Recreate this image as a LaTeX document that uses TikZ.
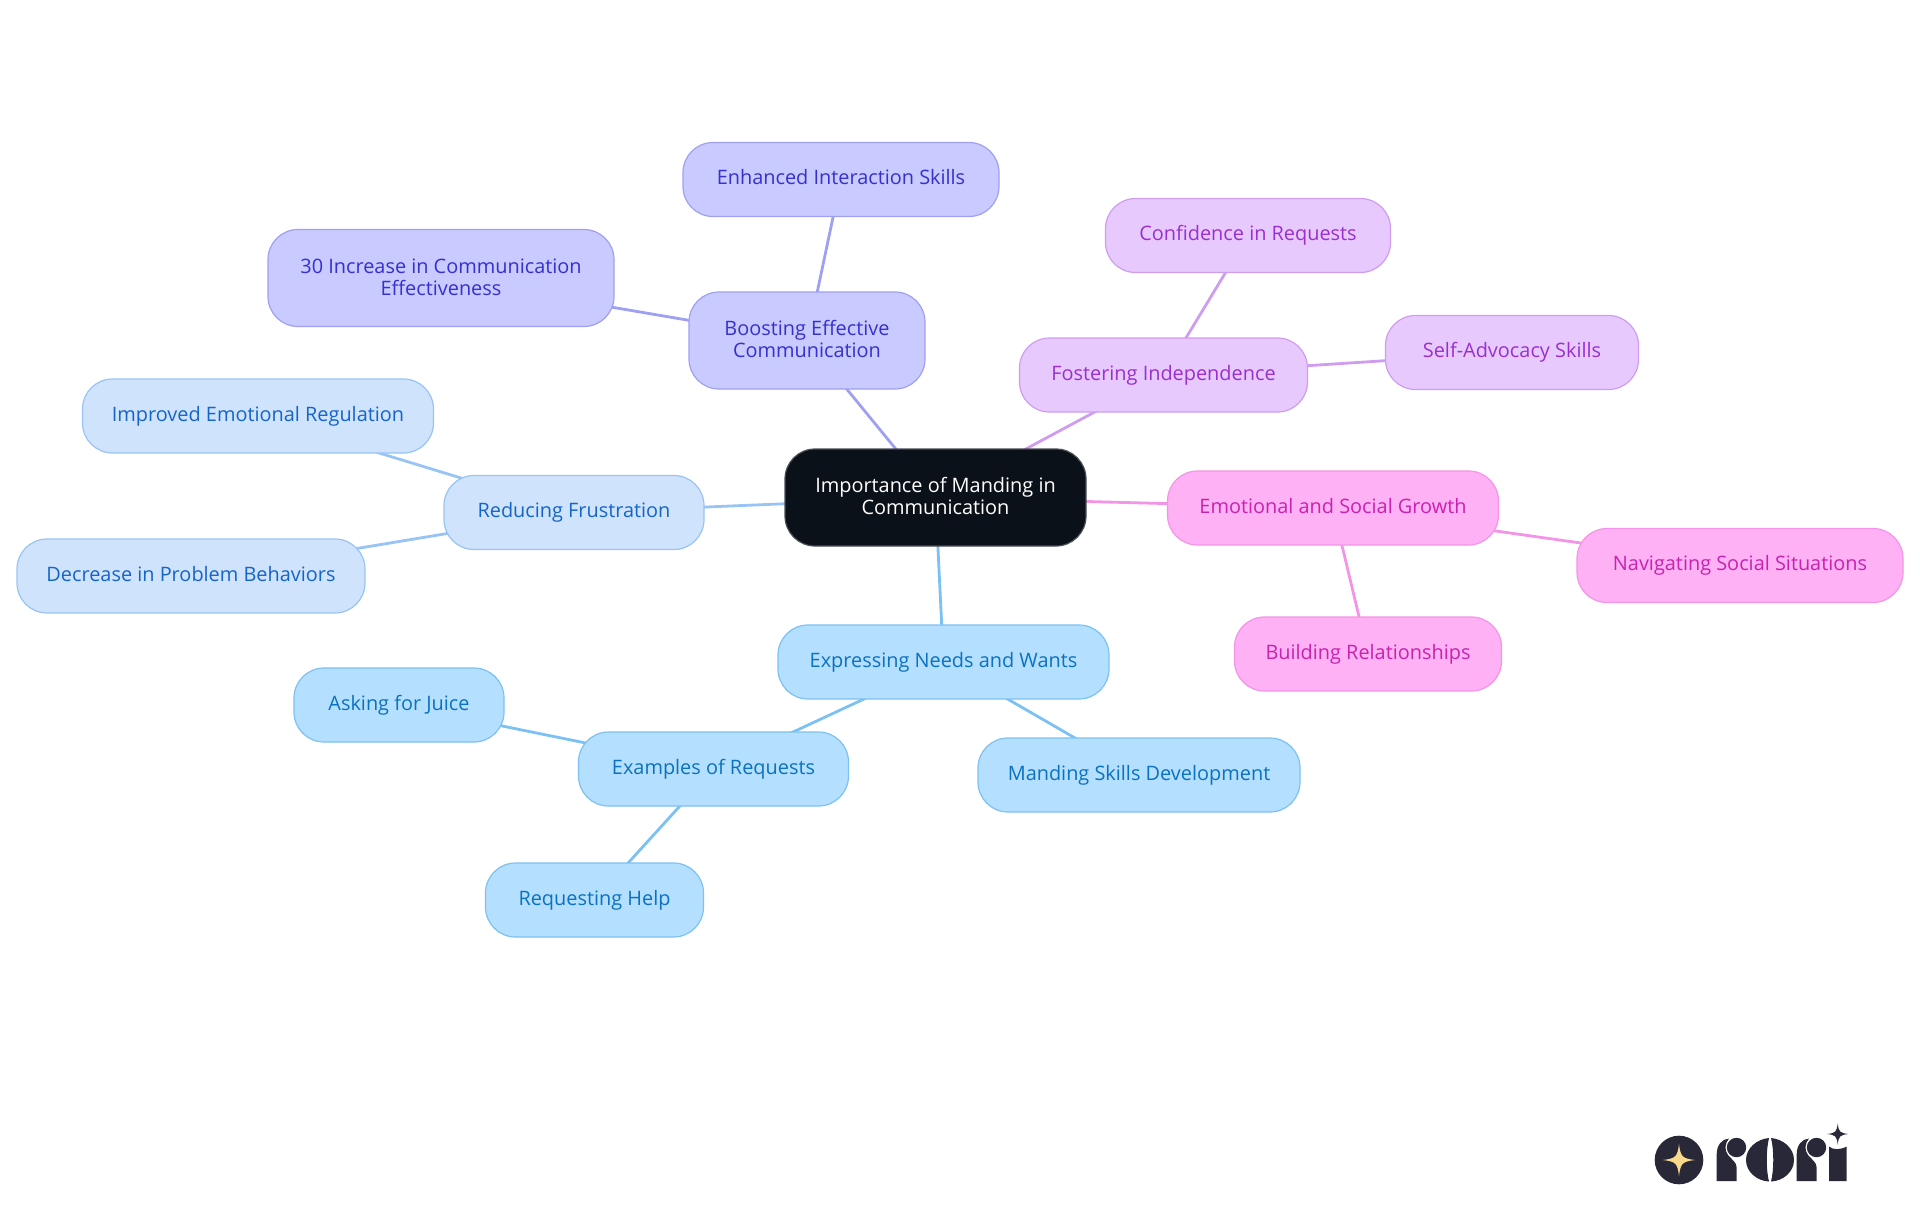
\documentclass[tikz,border=0pt]{standalone}
\usepackage{fontspec}
\usetikzlibrary{backgrounds}
\setmainfont{Open Sans}
\definecolor{rootfill}{HTML}{0B1119}
\definecolor{rootline}{HTML}{4A4F55}
\definecolor{boostfill}{HTML}{C9CAFF}
\definecolor{boostline}{HTML}{9FA0F2}
\definecolor{boosttext}{HTML}{3730CF}
\definecolor{calmfill}{HTML}{CFE3FD}
\definecolor{calmline}{HTML}{98C4F5}
\definecolor{calmtext}{HTML}{1565C9}
\definecolor{needfill}{HTML}{B5DFFE}
\definecolor{needline}{HTML}{7CC1F3}
\definecolor{needtext}{HTML}{0A72C0}
\definecolor{selffill}{HTML}{E8C9FE}
\definecolor{selfline}{HTML}{CF9CF0}
\definecolor{selftext}{HTML}{9A2FD0}
\definecolor{growfill}{HTML}{FEB1F4}
\definecolor{growline}{HTML}{F494E6}
\definecolor{growtext}{HTML}{C822B0}
\definecolor{logoink}{HTML}{292838}
\definecolor{logostar}{HTML}{FBD98A}
\tikzset{
  mapnode/.style={rounded corners=30, line width=1.2pt, inner sep=0pt, align=center,
    minimum height=74, text height=15, text depth=5, font=\fontsize{19.9}{22}\selectfont},
  tallnode/.style={minimum height=97, text height=, text depth=2.4},
  rootnode/.style={mapnode, fill=rootfill, draw=rootline, text=white},
  boostnode/.style={mapnode, fill=boostfill, draw=boostline, text=boosttext},
  calmnode/.style={mapnode, fill=calmfill, draw=calmline, text=calmtext},
  neednode/.style={mapnode, fill=needfill, draw=needline, text=needtext},
  selfnode/.style={mapnode, fill=selffill, draw=selfline, text=selftext},
  grownode/.style={mapnode, fill=growfill, draw=growline, text=growtext},
  maplink/.style={line width=2.8pt}
}
% four pointed star: centre, reach, colour
\newcommand{\sparkle}[3]{
  \fill[#3] (#1) ++(0,-#2) .. controls +(#2*0.1,#2*0.8) and +(-#2*0.8,-#2*0.1) .. ++(#2,#2)
    .. controls +(-#2*0.8,#2*0.1) and +(#2*0.1,-#2*0.8) .. ++(-#2,#2)
    .. controls +(-#2*0.1,-#2*0.8) and +(#2*0.8,#2*0.1) .. ++(-#2,-#2)
    .. controls +(#2*0.8,-#2*0.1) and +(-#2*0.1,#2*0.8) .. ++(#2,-#2) -- cycle;
}
\begin{document}
\begin{tikzpicture}[x=1pt, y=-1pt]
  \useasboundingbox (0,0) rectangle (1920,1215);

  % --- centre ---
  \node[rootnode, tallnode, minimum width=301] (root) at (935.5,497.5) {Importance of Manding in\\Communication};

  % --- boosting branch ---
  \node[boostnode, tallnode, minimum width=236] (boost) at (807,340.5) {Boosting Effective\\Communication};
  \node[boostnode, minimum width=316] (enhanced) at (841,179.5) {Enhanced Interaction Skills};
  \node[boostnode, tallnode, minimum width=346] (increase) at (441,278) {30 Increase in Communication\\Effectiveness};

  % --- frustration branch ---
  \node[calmnode, minimum width=260] (frustration) at (574,512.5) {Reducing Frustration};
  \node[calmnode, minimum width=351] (regulation) at (258,416) {Improved Emotional Regulation};
  \node[calmnode, minimum width=348] (behaviors) at (191,576) {Decrease in Problem Behaviors};

  % --- needs branch ---
  \node[neednode, minimum width=331] (needs) at (943.5,662) {Expressing Needs and Wants};
  \node[neednode, minimum width=270] (examples) at (713.5,769) {Examples of Requests};
  \node[neednode, minimum width=322] (skills) at (1139,775) {Manding Skills Development};
  \node[neednode, minimum width=210] (juice) at (399,705) {Asking for Juice};
  \node[neednode, minimum width=218] (help) at (594.5,900) {Requesting Help};

  % --- independence branch ---
  \node[selfnode, minimum width=288] (independence) at (1163.5,375) {Fostering Independence};
  \node[selfnode, minimum width=285] (confidence) at (1248,235.5) {Confidence in Requests};
  \node[selfnode, minimum width=253] (advocacy) at (1512,352.5) {Self-Advocacy Skills};

  % --- growth branch ---
  \node[grownode, minimum width=331] (growth) at (1333,508) {Emotional and Social Growth};
  \node[grownode, minimum width=267] (relations) at (1368,654) {Building Relationships};
  \node[grownode, minimum width=326] (social) at (1740,565.5) {Navigating Social Situations};

  % --- links ---
  \begin{scope}[on background layer]
    \draw[maplink, boostline] (root.center) -- (boost.center);
    \draw[maplink, boostline] (boost.center) -- (enhanced.center);
    \draw[maplink, boostline] (boost.center) -- (increase.center);
    \draw[maplink, calmline] (root.center) -- (frustration.center);
    \draw[maplink, calmline] (frustration.center) -- (regulation.center);
    \draw[maplink, calmline] (frustration.center) -- (behaviors.center);
    \draw[maplink, needline] (root.center) -- (needs.center);
    \draw[maplink, needline] (needs.center) -- (examples.center);
    \draw[maplink, needline] (needs.center) -- (skills.center);
    \draw[maplink, needline] (examples.center) -- (juice.center);
    \draw[maplink, needline] (examples.center) -- (help.center);
    \draw[maplink, selfline] (root.center) -- (independence.center);
    \draw[maplink, selfline] (independence.center) -- (confidence.center);
    \draw[maplink, selfline] (independence.center) -- (advocacy.center);
    \draw[maplink, growline] (root.center) -- (growth.center);
    \draw[maplink, growline] (growth.center) -- (relations.center);
    \draw[maplink, growline] (growth.center) -- (social.center);
  \end{scope}

  % --- logo ---
  \fill[logoink] (1679,1160) circle (24.3);
  \sparkle{1679,1160}{16}{logostar}
  % first r
  \fill[logoink] (1716.7,1181) -- (1716.7,1154) .. controls (1716.7,1145) and (1722,1139) .. (1729,1138.5)
    .. controls (1725,1143) and (1724,1150) .. (1728,1155) .. controls (1732,1160) and (1736.7,1162) .. (1736.7,1168) -- (1736.7,1181) -- cycle;
  \fill[logoink] (1736.5,1147.5) circle (9.7);
  % o
  \fill[logoink] (1769,1138) .. controls (1757,1139) and (1746,1148) .. (1746,1160)
    .. controls (1746,1172) and (1757,1181) .. (1769,1181.5) .. controls (1766,1170) and (1766,1150) .. (1769,1138) -- cycle;
  \fill[logoink] (1771,1138) .. controls (1783,1139) and (1794,1148) .. (1794,1160)
    .. controls (1794,1172) and (1783,1181) .. (1771,1181.5) .. controls (1774,1170) and (1774,1150) .. (1771,1138) -- cycle;
  % second r
  \fill[logoink] (1796.7,1181) -- (1796.7,1154) .. controls (1796.7,1145) and (1802,1139) .. (1809,1138.5)
    .. controls (1805,1143) and (1804,1150) .. (1808,1155) .. controls (1812,1160) and (1816.7,1162) .. (1816.7,1168) -- (1816.7,1181) -- cycle;
  \fill[logoink] (1816.5,1147.5) circle (9.7);
  % i
  \fill[logoink] (1829,1181) -- (1829,1146.5) .. controls (1833,1150) and (1840,1150) .. (1846.7,1146.5) -- (1846.7,1181) -- cycle;
  \sparkle{1837.7,1134}{10.5}{logoink}
\end{tikzpicture}
\end{document}
